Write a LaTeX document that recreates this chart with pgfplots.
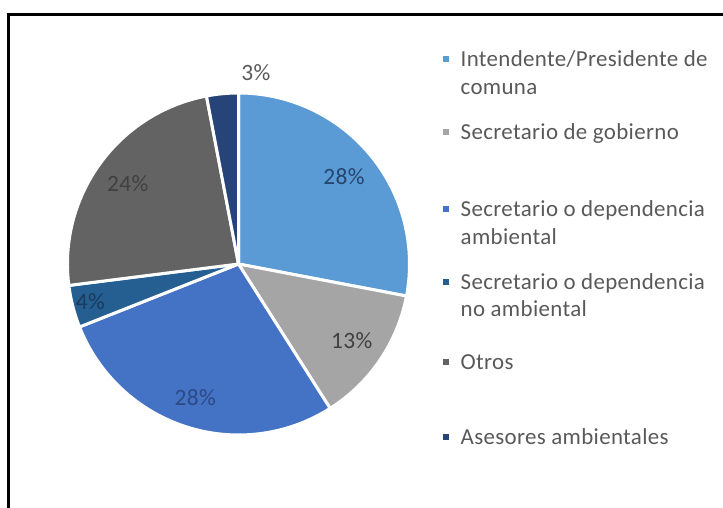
\documentclass[border=0pt]{standalone}
\usepackage{pgfplots}
\pgfplotsset{compat=1.18}
\usepackage{pgfplotstable}
\usepackage{fontspec}
\setmainfont{Carlito}[LetterSpace=1.5]

\definecolor{c1}{HTML}{5B9BD5}
\definecolor{c2}{HTML}{A5A5A5}
\definecolor{c3}{HTML}{4472C4}
\definecolor{c4}{HTML}{255E91}
\definecolor{c5}{HTML}{636363}
\definecolor{c6}{HTML}{264478}
\definecolor{l1}{HTML}{24456E}
\definecolor{l2}{HTML}{404040}
\definecolor{l3}{HTML}{2C4A85}
\definecolor{l4}{HTML}{1C3A5A}
\definecolor{l5}{HTML}{404040}
\definecolor{l6}{HTML}{595959}
\definecolor{legtext}{HTML}{595959}

\newcommand\labelfont{\fontsize{23.5}{27}\selectfont}
\newcommand\legfont{\fontsize{23}{27}\selectfont}

\pgfplotstableread{
v lr la lc
28 137 0 l1
13 137 0 l2
28 140 0 l3
4 153 0 l4
24 137 0 l5
3 192 -10.6 l6
}\piedata

\begin{document}
\begin{tikzpicture}[x=1bp,y=1bp]
\path[use as bounding box] (0,0) rectangle (723,508);
\begin{axis}[x=1bp, y=1bp, xmin=0, xmax=723, ymin=0, ymax=508,
  hide axis, clip=false, anchor=origin, at={(0,0)}]
\def\cum{0}
\pgfplotsforeachungrouped \i in {0,...,5}{%
  \pgfplotstablegetelem{\i}{v}\of\piedata \let\val\pgfplotsretval
  \pgfplotstablegetelem{\i}{lr}\of\piedata \let\lr\pgfplotsretval
  \pgfplotstablegetelem{\i}{la}\of\piedata \let\la\pgfplotsretval
  \pgfplotstablegetelem{\i}{lc}\of\piedata \let\lc\pgfplotsretval
  \pgfmathsetmacro\sa{90-3.6*\cum}%
  \pgfmathsetmacro\da{-3.6*\val}%
  \pgfmathsetmacro\ma{\sa+\da/2+\la}%
  \pgfmathsetmacro\lx{238.5+\lr*cos(\ma)}%
  \pgfmathsetmacro\ly{244+\lr*sin(\ma)}%
  \pgfmathsetmacro\cumnew{\cum+\val}\let\cum\cumnew
  \pgfmathtruncatemacro\cc{\i+1}%
  \edef\cmd{\noexpand\fill[c\cc, draw=white, line width=3bp, line join=round]
     (axis cs:238.5,244) -- ++(\sa:171bp) arc[start angle=\sa, delta angle=\da, radius=171bp] -- cycle;
     \noexpand\node[text=\lc, font=\noexpand\labelfont, inner sep=0pt] at (axis cs:\lx,\ly) {\val\noexpand\%};}%
  \cmd
}
\end{axis}
% frame
\draw[line width=2.5bp] (8.7,0) -- (8.7,493.5) -- (723,493.5);
% legend
\begin{scope}[every node/.style={anchor=base west, inner sep=0pt, text=legtext, font=\legfont}]
\fill[c1] (443,446) rectangle (449,452);
\node at (460.5,441) {Intendente/Presidente de};
\node at (460.5,413) {comuna};
\fill[c2] (443,373) rectangle (449,379);
\node at (460.5,368) {Secretario de gobierno};
\fill[c3] (443,296) rectangle (449,302);
\node at (460.5,291) {Secretario o dependencia};
\node at (460.5,263) {ambiental};
\fill[c4] (443,223) rectangle (449,229);
\node at (460.5,218) {Secretario o dependencia};
\node at (460.5,191) {no ambiental};
\fill[c5] (443,143) rectangle (449,149);
\node at (460.5,138) {Otros};
\fill[c6] (443,68) rectangle (449,74);
\node at (460.5,63) {Asesores ambientales};
\end{scope}
\end{tikzpicture}
\end{document}
